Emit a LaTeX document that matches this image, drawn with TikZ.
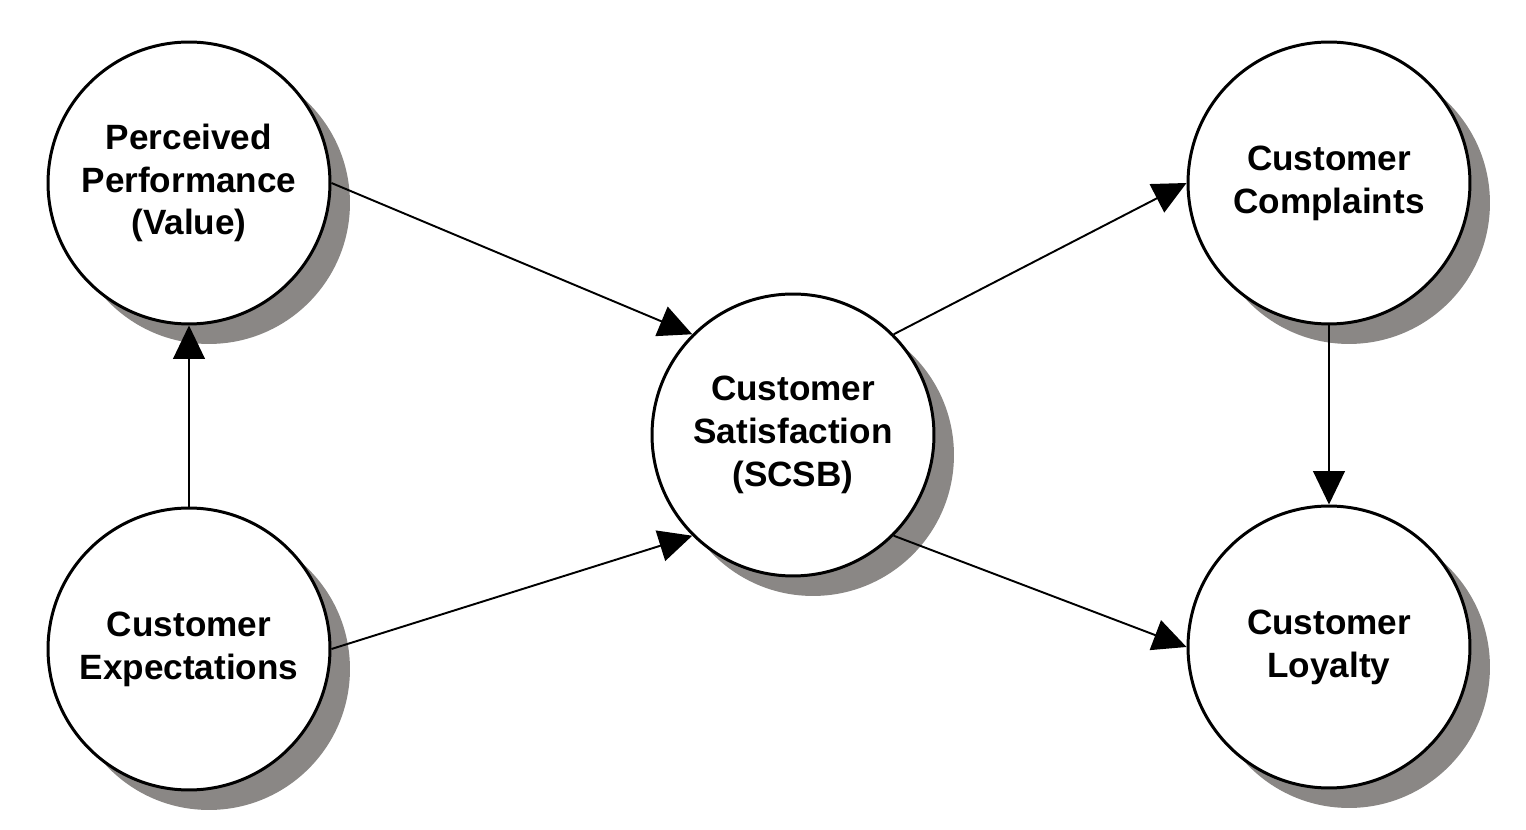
\documentclass[tikz,border=0pt]{standalone}
\usepackage{fontspec}
\setmainfont{Liberation Sans}
\usetikzlibrary{arrows.meta,shadows}
\definecolor{shadowgray}{RGB}{138,135,133}

\begin{document}
\begin{tikzpicture}[x=0.02cm,y=-0.02cm,
		construct/.style={circle,draw,line width=1.7pt,fill=white,minimum size=5.64cm,inner sep=0,
			align=center,font=\fontsize{20}{24.4}\selectfont\bfseries,
			drop shadow={shadow xshift=0.4cm,shadow yshift=-0.4cm,fill=shadowgray,opacity=1}},
		link/.style={-{Triangle[length=19pt,width=18pt]},line width=1.1pt}]
		\useasboundingbox (0,0) rectangle (1526,830);
		\node [construct] (perf) at (189,183) {Perceived\\Performance\\(Value)};
		\node [construct] (expect) at (189,649) {Customer\\Expectations};
		\node [construct] (satis) at (793,435) {Customer\\Satisfaction\\(SCSB)};
		\node [construct] (complain) at (1329,183) {Customer\\Complaints};
		\node [construct] (loyal) at (1329,647) {Customer\\Loyalty};
		\draw [link] (expect) -- (perf);
		\draw [link] (perf.east) -- (satis.north west);
		\draw [link] (expect.east) -- (satis.south west);
		\draw [link] (satis.north east) -- (complain.west);
		\draw [link] (satis.south east) -- (loyal.west);
		\draw [link] (complain) -- (loyal);
	\end{tikzpicture}
\end{document}
